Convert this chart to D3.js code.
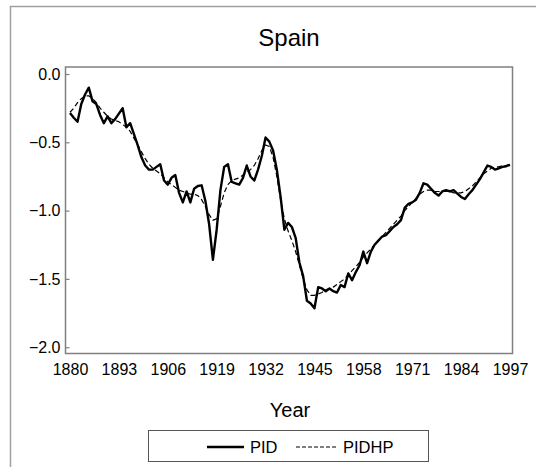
<!DOCTYPE html>
<html>
<head>
<meta charset="utf-8">
<script src="https://cdn.jsdelivr.net/npm/d3@7"></script>
<style>
  body { margin: 0; background: #fff; }
  text { font-family: "Liberation Sans", Arial, sans-serif; fill: #000; }
</style>
</head>
<body>
<div id="chart"></div>
<script>
const years = d3.range(1880, 1998);

const pid = [
  -0.285, -0.32, -0.35, -0.22, -0.15, -0.10, -0.20, -0.22, -0.30, -0.36,
  -0.31, -0.36, -0.33, -0.29, -0.25, -0.39, -0.36, -0.44, -0.52, -0.61,
  -0.67, -0.70, -0.70, -0.68, -0.66, -0.78, -0.81, -0.76, -0.74, -0.87,
  -0.94, -0.86, -0.94, -0.84, -0.82, -0.815, -0.93, -1.10, -1.36, -1.14,
  -0.85, -0.68, -0.66, -0.79, -0.80, -0.81, -0.76, -0.67, -0.75, -0.78,
  -0.70, -0.60, -0.465, -0.495, -0.56, -0.70, -0.90, -1.14, -1.09, -1.12,
  -1.20, -1.38, -1.48, -1.66, -1.68, -1.715, -1.56, -1.57, -1.59, -1.57,
  -1.59, -1.60, -1.545, -1.56, -1.46, -1.51, -1.45, -1.40, -1.30, -1.385,
  -1.30, -1.25, -1.22, -1.19, -1.18, -1.15, -1.12, -1.10, -1.07, -0.98,
  -0.95, -0.94, -0.92, -0.87, -0.80, -0.81, -0.84, -0.87, -0.89, -0.86,
  -0.85, -0.86, -0.85, -0.875, -0.90, -0.915, -0.88, -0.85, -0.81, -0.77,
  -0.72, -0.67, -0.68, -0.70, -0.69, -0.68, -0.675, -0.665
];

const pidhp = [
  -0.28, -0.25, -0.21, -0.18, -0.16, -0.16, -0.18, -0.21, -0.25, -0.28,
  -0.31, -0.33, -0.34, -0.35, -0.37, -0.39, -0.42, -0.47, -0.52, -0.57,
  -0.62, -0.66, -0.69, -0.71, -0.73, -0.76, -0.79, -0.81, -0.83, -0.85,
  -0.86, -0.87, -0.88, -0.88, -0.89, -0.92, -0.97, -1.03, -1.07, -1.06,
  -0.97, -0.87, -0.81, -0.78, -0.77, -0.76, -0.74, -0.72, -0.70, -0.67,
  -0.62, -0.56, -0.52, -0.53, -0.61, -0.75, -0.92, -1.06, -1.15, -1.22,
  -1.30, -1.40, -1.50, -1.58, -1.62, -1.62, -1.61, -1.60, -1.58, -1.57,
  -1.56, -1.54, -1.52, -1.50, -1.47, -1.44, -1.41, -1.38, -1.34, -1.31,
  -1.28, -1.25, -1.22, -1.19, -1.16, -1.13, -1.10, -1.07, -1.04, -1.00,
  -0.97, -0.94, -0.91, -0.88, -0.86, -0.85, -0.85, -0.86, -0.86, -0.86,
  -0.86, -0.86, -0.87, -0.87, -0.87, -0.86, -0.84, -0.82, -0.79, -0.76,
  -0.73, -0.71, -0.69, -0.68, -0.68, -0.67, -0.67, -0.66
];

const xTicks = [1880, 1893, 1906, 1919, 1932, 1945, 1958, 1971, 1984, 1997];
const yTicks = [0, -0.5, -1.0, -1.5, -2.0];

const width = 536, height = 467;
const frame = { left: 65.5, top: 67, right: 512.5, bottom: 353.5 };

const svg = d3.select("#chart")
  .append("svg")
  .attr("width", width)
  .attr("height", height);

// outer figure border (left + top)
svg.append("path")
  .attr("d", `M10.5,${height} V6.5 H${width}`)
  .attr("fill", "none")
  .attr("stroke", "#a0a0a0")
  .attr("stroke-width", 1.5);

const x = d3.scaleLinear().domain([1880, 1997]).range([70, 510]);
const y = d3.scaleLinear().domain([0, -2]).range([74, 347.2]);

// plot frame
svg.append("rect")
  .attr("x", frame.left)
  .attr("y", frame.top)
  .attr("width", frame.right - frame.left)
  .attr("height", frame.bottom - frame.top)
  .attr("fill", "none")
  .attr("stroke", "#808080")
  .attr("stroke-width", 1.5);

// y axis: ticks inside, labels outside
const yAxis = svg.append("g")
  .attr("transform", `translate(${frame.left},0)`)
  .call(d3.axisRight(y).tickValues(yTicks).tickSize(4).tickFormat(d3.format(".1f")));
yAxis.select(".domain").remove();
yAxis.selectAll("line").attr("stroke", "#808080").attr("stroke-width", 1.2);
yAxis.selectAll("text")
  .attr("x", -5)
  .attr("text-anchor", "end")
  .attr("font-size", 16)
  .style("font-family", "'Liberation Sans', Arial, sans-serif");

// x axis labels only
const xAxis = svg.append("g")
  .attr("transform", `translate(0,${frame.bottom})`)
  .call(d3.axisBottom(x).tickValues(xTicks).tickSize(0).tickPadding(10).tickFormat(d3.format("d")));
xAxis.select(".domain").remove();
xAxis.selectAll("text")
  .attr("font-size", 16)
  .style("font-family", "'Liberation Sans', Arial, sans-serif");

const line = (vals) =>
  d3.line()
    .x((d, i) => x(years[i]))
    .y((d) => y(d))(vals);

svg.append("path")
  .attr("d", line(pidhp))
  .attr("fill", "none")
  .attr("stroke", "#000")
  .attr("stroke-width", 1.2)
  .attr("stroke-dasharray", "5,3");

svg.append("path")
  .attr("d", line(pid))
  .attr("fill", "none")
  .attr("stroke", "#000")
  .attr("stroke-width", 2.4)
  .attr("stroke-linejoin", "round");

// title and axis title
svg.append("text")
  .attr("x", 289)
  .attr("y", 46)
  .attr("text-anchor", "middle")
  .attr("font-size", 24)
  .text("Spain");

svg.append("text")
  .attr("x", 290)
  .attr("y", 417)
  .attr("text-anchor", "middle")
  .attr("font-size", 20)
  .text("Year");

// legend
const legend = svg.append("g");
legend.append("rect")
  .attr("x", 148.5)
  .attr("y", 430.5)
  .attr("width", 280)
  .attr("height", 31)
  .attr("fill", "none")
  .attr("stroke", "#555")
  .attr("stroke-width", 1);

const items = [
  { label: "PID", x1: 207, x2: 244, dash: null, w: 2.4 },
  { label: "PIDHP", x1: 296, x2: 337, dash: "4,2", w: 1.2 }
];
items.forEach((it) => {
  legend.append("line")
    .attr("x1", it.x1).attr("x2", it.x2)
    .attr("y1", 447).attr("y2", 447)
    .attr("stroke", "#000")
    .attr("stroke-width", it.w)
    .attr("stroke-dasharray", it.dash);
  legend.append("text")
    .attr("x", it.x2 + 6)
    .attr("y", 453)
    .attr("font-size", 16.5)
    .text(it.label);
});
</script>
</body>
</html>
